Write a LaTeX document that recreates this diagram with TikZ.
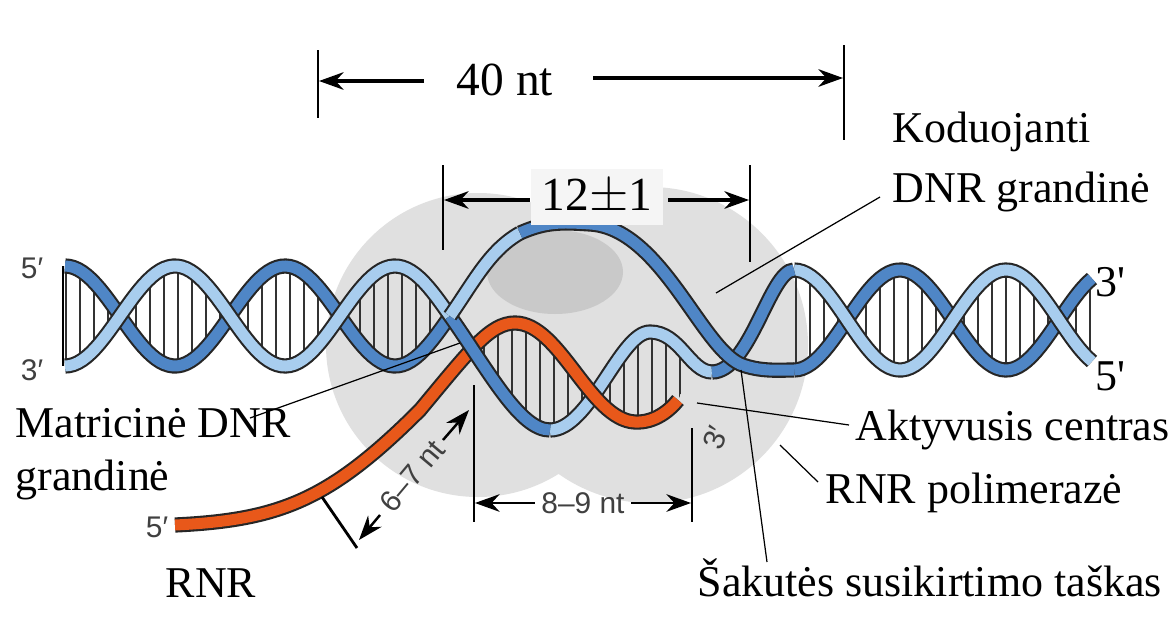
\documentclass[tikz,border=0pt]{standalone}
\usepackage{fontspec}
\setmainfont{Liberation Serif}
\newfontfamily\smallsans{Liberation Sans}
\usetikzlibrary{arrows.meta}
\definecolor{dnaDark}{HTML}{4F86C6}
\definecolor{dnaLight}{HTML}{A8CDEE}
\definecolor{rnaOrange}{HTML}{E8581A}
\tikzset{
  ribbon/.style={draw=black!85,line width=0.6pt,double distance=0.11cm},
  strandD/.style={ribbon,double=dnaDark},
  strandL/.style={ribbon,double=dnaLight},
  rna/.style={ribbon,double=rnaOrange},
  hatch/.style={black!80,line width=0.5pt},
  dim/.style={black,line width=0.9pt,-{Stealth[length=7pt,width=5pt]}},
  bar/.style={black,line width=0.8pt},
  leader/.style={black,line width=0.35pt},
  lbl/.style={font=\fontsize{12.5}{15}\selectfont,inner sep=0pt},
  tag/.style={font=\smallsans\fontsize{8.5}{10}\selectfont,text=black!75,inner sep=0pt}
}
\begin{document}
\begin{tikzpicture}[x=0.01cm,y=-0.01cm]
    \useasboundingbox (0,0) rectangle (1172,642);
    \fill[white] (0,0) rectangle (1172,642);
    % enzyme body
    \fill[gray!24] (478,345) circle (152) (650,345) circle (158);
    \fill[gray!42] (555,272) ellipse (68 and 42);
    % base pairs
    \foreach \x in {66,80,...,446}
        \draw[hatch] (\x,{316-50*cos((\x-65)*1.63636)}) -- (\x,{316+50*cos((\x-65)*1.63636)});
    \foreach \x in {796,810,...,1090}
        \draw[hatch] (\x,{320+50*cos((\x-794)*1.69811)}) -- (\x,{320-50*cos((\x-794)*1.69811)});
    \begin{scope}
        \clip plot[smooth cycle] coordinates {(478,358) (490,338) (505,326) (520,323) (540,330) (560,350) (580,378) (597,395)
            (612,368) (630,343) (650,332) (670,340) (688,365) (678,400) (660,417) (640,422) (620,415) (598,398)
            (580,415) (560,428) (540,428) (520,415) (500,392) (485,372)};
        \foreach \x in {484,498,...,690}
            \draw[hatch] (\x,300) -- (\x,450);
    \end{scope}
    % left and right double helix
    \draw[strandD] plot[domain=65:450,samples=90] (\x,{316-50*cos((\x-65)*1.63636)});
    \draw[strandL] plot[domain=65:450,samples=90] (\x,{316+50*cos((\x-65)*1.63636)});
    \draw[strandD] plot[domain=794:1092,samples=70] (\x,{320+50*cos((\x-794)*1.69811)});
    \draw[strandL] plot[domain=794:1092,samples=70] (\x,{320-50*cos((\x-794)*1.69811)});
    \draw[bar] (63,266) -- (63,366);
    % template strand
    \draw[strandL] (550,430) .. controls (590,430) and (620,332) .. (650,332)
        .. controls (680,332) and (690,372) .. (712,372);
    \draw[strandD] (712,372) .. controls (750,372) and (770,270) .. (794,270);
    % RNA
    \coordinate (rna5) at (175,525);
    \draw[rna] (rna5) .. controls (280,520) and (330,500) .. (420,410)
        .. controls (470,350) and (490,323) .. (515,323)
        .. controls (560,323) and (590,420) .. (635,422)
        .. controls (655,423) and (670,410) .. (678,400);
    \draw[strandD] (450,316) .. controls (490,373) and (520,430) .. (550,430);
    % coding strand
    \draw[strandL] (450,316) .. controls (475,280) and (490,250) .. (520,233);
    \draw[strandD] (520,233) .. controls (545,222) and (560,222) .. (590,224)
        .. controls (660,228) and (700,345) .. (740,364)
        .. controls (760,372) and (780,370) .. (794,370);
    % dimensions
    \draw[bar] (318,50) -- (318,118);
    \draw[bar] (844,45) -- (844,140);
    \node[lbl,font=\fontsize{13.5}{16}\selectfont] (forty) at (505,80) {40 nt};
    \draw[dim] (424,81) -- (319,81);
    \draw[dim] (593,78) -- (843,78);
    \draw[bar] (443,165) -- (443,250);
    \draw[bar] (750,165) -- (750,262);
    \node[lbl,fill=gray!8,inner sep=3pt,font=\fontsize{13.5}{16}\selectfont] (twelve) at (597,197) {12$\pm$1};
    \draw[dim] (530,200) -- (444,200);
    \draw[dim] (668,200) -- (749,200);
    \draw[bar] (474,385) -- (474,522);
    \draw[bar] (692,428) -- (692,522);
    \node[tag] (eight) at (583,503) {8–9 nt};
    \draw[dim,line width=0.7pt] (eight.west) ++(-6,0) -- (475,503);
    \draw[dim,line width=0.7pt] (eight.east) ++(6,0) -- (691,503);
    \draw[bar] (322,497) -- (357,548);
    \node[tag,rotate=50] (six) at (412,476) {6–7 nt};
    \coordinate (sixLo) at (380,515);
    \coordinate (sixHi) at (443,440);
    \draw[dim,line width=0.7pt] (sixLo) -- (359,540);
    \draw[dim,line width=0.7pt] (sixHi) -- (469,410);
    % end labels
    \node[tag] (l5) at (32,268) {5′};
    \node[tag] (l3) at (32,370) {3′};
    \node[lbl] (r3) at (1110,282) {3\textquotesingle};
    \node[lbl] (r5) at (1110,376) {5\textquotesingle};
    \node[tag] (rna5lbl) at (157,527) {5′};
    \node[tag,rotate=70] (mid3) at (716,438) {3′};
    % labels with leaders
    \node[lbl,anchor=west,align=left] (coding) at (892,162) {Koduojanti\\[2pt]DNR grandinė};
    \draw[leader] (716,293) -- (880,197);
    \node[lbl,anchor=west,align=left] (template) at (15,454) {Matricinė DNR\\grandinė};
    \draw[leader] (250,418) -- (460,343);
    \node[lbl,anchor=west] (active) at (855,430) {Aktyvusis centras};
    \draw[leader] (697,403) -- (849,425);
    \node[lbl,anchor=west] (pol) at (825,493) {RNR polimerazė};
    \draw[leader] (780,445) -- (818,482);
    \node[lbl,anchor=west] (fork) at (697,578) {Šakutės susikirtimo taškas};
    \draw[leader] (741,370) -- (767,562);
    \node[lbl,anchor=west] (rnalbl) at (165,583) {RNR};
\end{tikzpicture}
\end{document}
